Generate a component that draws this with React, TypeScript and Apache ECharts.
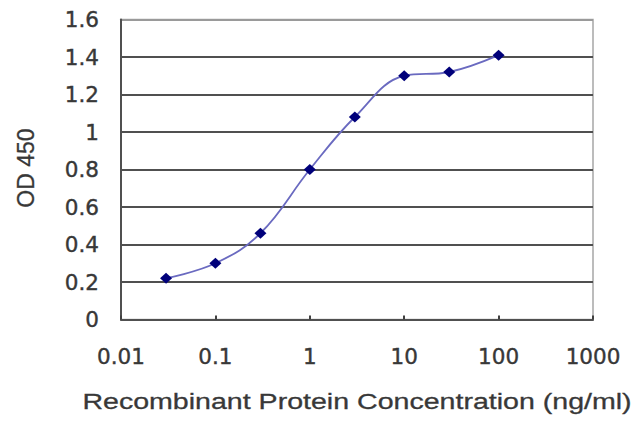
import React, { useEffect, useRef } from "react";
import * as echarts from "echarts";

const concentrations = [0.03, 0.1, 0.3, 1, 3, 10, 30, 100];
const odValues = [0.22, 0.3, 0.46, 0.8, 1.08, 1.3, 1.32, 1.41];
const xTitle = "Recombinant Protein Concentration (ng/ml)";
const yTitle = "OD 450";

const fmt = (v: number) => String(parseFloat(Number(v).toPrecision(6)));

export default function App() {
  const ref = useRef<HTMLDivElement>(null);
  useEffect(() => {
    if (!ref.current) return;
    const chart = echarts.init(ref.current, undefined, { renderer: "svg" });
    const textColor = "#383838";
    const gridColors = ["#505050", "#505050", "#505050", "#505050", "#505050", "#505050", "#505050", "#505050", "#9a9a9a"];
    chart.setOption({
      animation: false,
      backgroundColor: "#ffffff",
      grid: {
        left: 121,
        right: 47,
        top: 19.5,
        bottom: 107.5,
        show: true,
        borderColor: "#a6a6a6",
        borderWidth: 1.5,
        backgroundColor: "transparent",
      },
      xAxis: {
        type: "log",
        logBase: 10,
        min: 0.01,
        max: 1000,
        axisLine: { show: true, lineStyle: { color: "#505050", width: 2 } },
        axisTick: { show: true, inside: true, length: 4, lineStyle: { color: "#404040", width: 2 } },
        splitLine: { show: false },
        minorTick: { show: false },
        axisLabel: {
          color: textColor,
          fontFamily: "DejaVu Sans",
          fontSize: 21.5,
          margin: 26,
          textBorderColor: textColor,
          textBorderWidth: 0.4,
          formatter: (v: number) => fmt(v),
        },
      },
      yAxis: {
        type: "value",
        min: 0,
        max: 1.6,
        interval: 0.2,
        axisLine: { show: true, lineStyle: { color: "#505050", width: 2 } },
        axisTick: { show: false },
        splitLine: { show: true, lineStyle: { color: gridColors, width: 2.2 } },
        axisLabel: {
          color: textColor,
          fontFamily: "DejaVu Sans",
          fontSize: 21.5,
          margin: 22,
          textBorderColor: textColor,
          textBorderWidth: 0.4,
          formatter: (v: number) => fmt(v),
        },
      },
      graphic: [
        {
          type: "text",
          x: 357,
          y: 401,
          scaleX: 1.27,
          style: {
            text: xTitle,
            x: 0,
            y: 0,
            fill: textColor,
            stroke: textColor,
            lineWidth: 0.3,
            font: "22.5px 'Liberation Sans', Arial, sans-serif",
            textAlign: "center",
            textVerticalAlign: "middle",
            align: "center",
            verticalAlign: "middle",
          },
        },
        {
          type: "text",
          x: 26,
          y: 168,
          rotation: Math.PI / 2,
          style: {
            text: yTitle,
            x: 0,
            y: 0,
            fill: textColor,
            stroke: textColor,
            lineWidth: 0.3,
            font: "23px 'Liberation Sans', Arial, sans-serif",
            textAlign: "center",
            textVerticalAlign: "middle",
            align: "center",
            verticalAlign: "middle",
          },
        },
      ],
      series: [
        {
          type: "line",
          data: concentrations.map((c, i) => [c, odValues[i]]),
          smooth: 0.4,
          symbol: "diamond",
          symbolSize: [12, 11],
          lineStyle: { color: "#6a6ac0", width: 1.8 },
          itemStyle: { color: "#00007a" },
          z: 5,
        },
      ],
    });
    return () => chart.dispose();
  }, []);
  return (
    <div
      ref={ref}
      style={{ position: "fixed", left: 0, top: 0, width: 640, height: 427, background: "#fff" }}
    />
  );
}
